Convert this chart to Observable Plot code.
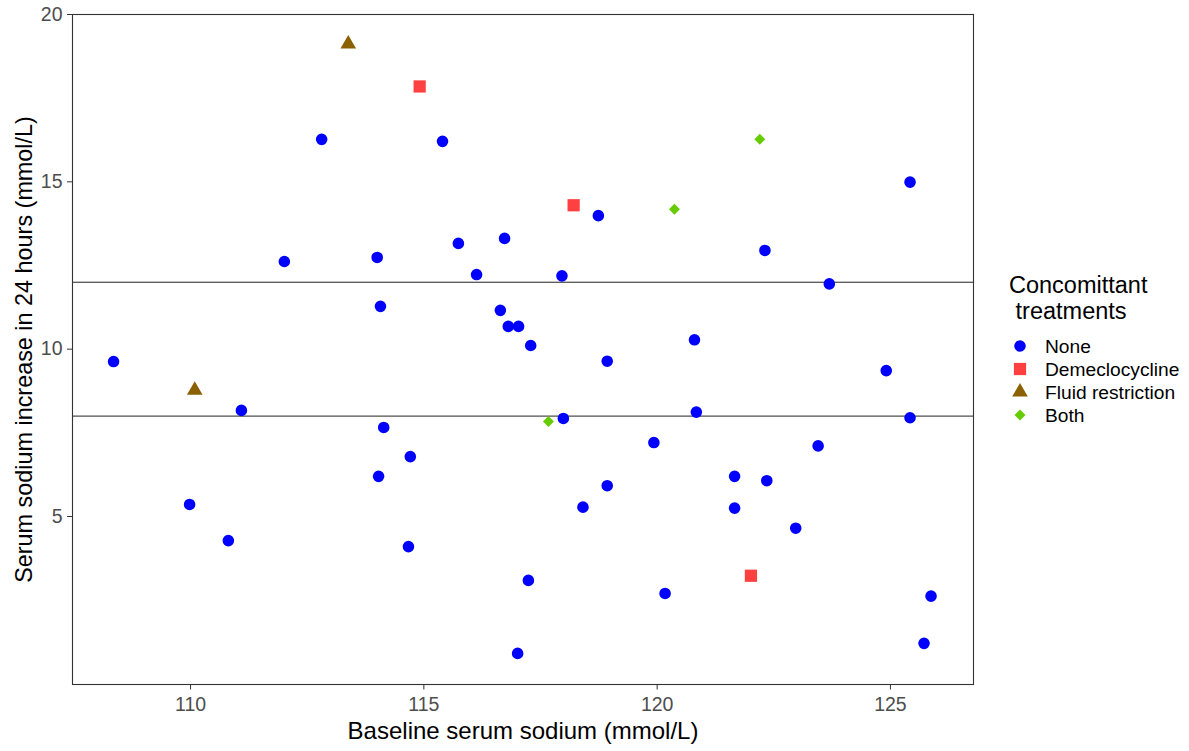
<!DOCTYPE html>
<html><head><meta charset="utf-8">
<script src="https://cdn.jsdelivr.net/npm/d3@7"></script>
<script src="https://cdn.jsdelivr.net/npm/@observablehq/plot@0.6"></script>
<style>
body{margin:0;background:#fff;font-family:"Liberation Sans",Arial,sans-serif;}
#wrap{position:relative;width:1189px;height:751px;}
</style></head><body><div id="wrap"></div>
<script>
const xLabel = "Baseline serum sodium (mmol/L)";
const yLabel = "Serum sodium increase in 24 hours (mmol/L)";
const legendTitle = ["Concomittant", " treatments"];
const categories = ["None", "Demeclocycline", "Fluid restriction", "Both"];
const xTicks = [110, 115, 120, 125];
const yTicks = [5, 10, 15, 20];
const thresholds = [8, 12];

const noneX = [108.35,109.98,110.81,111.09,112.01,112.81,114.00,114.07,114.14,114.03,114.71,114.67,115.40,115.74,116.13,116.64,116.73,116.81,117.03,117.29,117.24,117.01,
  117.99,117.96,118.74,120.80,118.93,124.91,120.84,125.42,125.42,122.31,123.69,119.93,123.45,121.66,122.35,118.93,118.41,121.66,122.97,120.17,125.87,125.72];
const noneY = [9.63,5.36,4.28,8.17,12.62,16.27,12.74,11.28,7.66,6.20,6.79,4.10,16.21,13.16,12.23,11.16,13.31,10.68,10.68,10.11,3.09,0.91,
  7.93,12.19,13.99,10.28,9.64,9.36,8.12,7.95,14.99,12.95,11.95,7.21,7.11,6.20,6.07,5.92,5.28,5.25,4.65,2.70,2.62,1.21];
const demecloX = [114.91,118.21,122.01];
const demecloY = [17.85,14.30,3.23];
const fluidX = [113.38,110.09];
const fluidY = [19.12,8.77];
const bothX = [117.67,120.37,122.20];
const bothY = [7.84,14.18,16.27];

const colors = ["#0000ff","#ff4040","#8b6000","#66cc00"];
const symbols = ["circle","square","triangle","diamond2"];
const radii = [5.8, 6.9, 5.8, 4.95];

const groups = [[noneX,noneY],[demecloX,demecloY],[fluidX,fluidY],[bothX,bothY]];
const pts = (g) => g[0].map((x,i)=>({x, y:g[1][i]}));
const font = '"Liberation Sans", Arial, sans-serif';

const plot = Plot.plot({
  width: 990, height: 751,
  marginLeft: 72, marginRight: 17, marginTop: 14, marginBottom: 67,
  style: {fontFamily: font, background: "#fff"},
  x: {domain: [107.47, 126.78]},
  y: {domain: [-0.02, 20.0]},
  marks: [
    Plot.ruleY(thresholds, {stroke: "#222", strokeWidth: 1}),
    ...groups.map((g,i) => Plot.dot(pts(g), {x:"x", y:"y", symbol: () => symbols[i], fill: colors[i], r: radii[i], stroke: "none"})),
    Plot.frame({stroke: "#333", strokeWidth: 1.1}),
    Plot.axisX({ticks: xTicks, tickSize: 5.5, tickPadding: 7, fontSize: 19.5, fill: "#4d4d4d", stroke: "#333", label: null}),
    Plot.axisY({ticks: yTicks, tickSize: 5, tickPadding: 5, fontSize: 19.5, fill: "#4d4d4d", stroke: "#333", label: null}),
    Plot.text([xLabel], {frameAnchor: "bottom", dy: 47, fontSize: 24, fill: "#000", text: d => d, textAnchor: "middle", lineAnchor: "middle"}),
    Plot.text([yLabel], {frameAnchor: "left", dx: -48, rotate: -90, fontSize: 23.4, fill: "#000", text: d => d, textAnchor: "middle", lineAnchor: "middle"})
  ]
});
const wrap = document.getElementById("wrap");
plot.style.position = "absolute"; plot.style.left = "0"; plot.style.top = "0";
wrap.appendChild(plot);

// legend (drawn in its own small SVG beside the plot)
const L = d3.create("svg").attr("width", 194).attr("height", 180)
  .style("position", "absolute").style("left", "995px").style("top", "265px")
  .style("font-family", font);
L.append("text").attr("x", 14).attr("y", 28).attr("font-size", 23.5).attr("fill", "#000").text(legendTitle[0]);
L.append("text").attr("x", 14).attr("y", 54).attr("font-size", 23.5).attr("fill", "#000")
  .style("white-space", "pre").text(legendTitle[1]);
const symMap = {circle: d3.symbolCircle, square: d3.symbolSquare, triangle: d3.symbolTriangle, diamond2: d3.symbolDiamond2};
categories.forEach((c,i) => {
  const base = 88 + i * 23;
  L.append("path").attr("transform", `translate(25,${base - 7})`)
    .attr("d", d3.symbol(symMap[symbols[i]], Math.PI * radii[i] * radii[i])()).attr("fill", colors[i]);
  L.append("text").attr("x", 50).attr("y", base).attr("font-size", 19.2).attr("fill", "#000").text(c);
});
wrap.appendChild(L.node());
</script>
</body></html>
